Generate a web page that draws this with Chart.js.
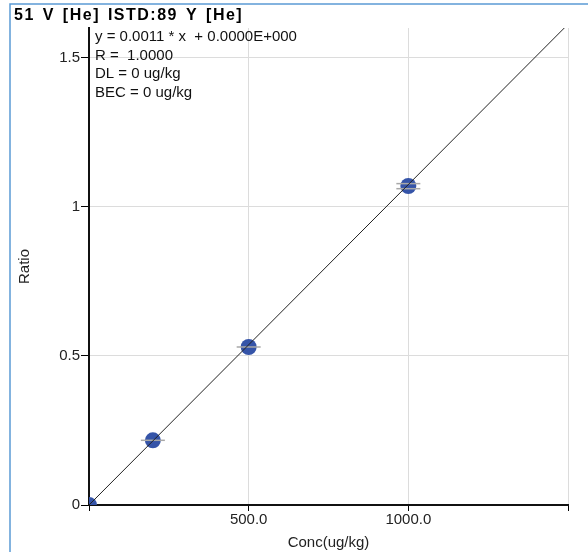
<!DOCTYPE html>
<html>
<head>
<meta charset="utf-8">
<script src="https://cdn.jsdelivr.net/npm/chart.js@4"></script>
<style>
    html, body { margin: 0; padding: 0; background: #fff; }
    #wrap { width: 588px; height: 552px; position: relative; }
</style>
</head>
<body>
<div id="wrap"><canvas id="calibChart" width="588" height="552"></canvas></div>
<script>
// calibration standards
const concentrations = [0, 200, 500, 1000];
const ratios = [0, 0.217, 0.530, 1.070];

// replicate marks drawn across the standards
const replicateConc = [200, 500, 1000, 1000];
const replicateRatio = [0.217, 0.530, 1.061, 1.078];

// fitted line end points
const fitConc = [0, 1500];
const fitRatio = [0, 1.6125];

const xTicks = [0, 500, 1000, 1500];
const yTicks = [0, 0.5, 1, 1.5];

const titleText = '51 V [He] ISTD:89 Y [He]';
const fitInfo = [
    'y = 0.0011 * x  + 0.0000E+000',
    'R =  1.0000',
    'DL = 0 ug/kg',
    'BEC = 0 ug/kg'
];

const FONT = '"Liberation Sans", Arial, sans-serif';

// frame, title and fit statistics
const decorPlugin = {
    id: 'decor',
    afterDraw(chart) {
        const ctx = chart.ctx;
        ctx.save();
        ctx.strokeStyle = '#5b9bd5';
        ctx.lineWidth = 1.5;
        ctx.beginPath();
        ctx.moveTo(10, 552);
        ctx.lineTo(10, 4);
        ctx.lineTo(588, 4);
        ctx.stroke();

        ctx.fillStyle = '#000';
        ctx.textBaseline = 'middle';
        ctx.font = 'bold 16px ' + FONT;
        ctx.letterSpacing = '1.5px';
        ctx.wordSpacing = '2px';
        ctx.fillText(titleText, 14, 16);
        ctx.letterSpacing = '0px';
        ctx.wordSpacing = '0px';

        ctx.font = '15px ' + FONT;
        ctx.fillStyle = '#111';
        fitInfo.forEach((line, i) => {
            ctx.fillText(line, 95, 37 + i * 18.5);
        });
        ctx.restore();
    }
};

const ctx = document.getElementById('calibChart').getContext('2d');

new Chart(ctx, {
    type: 'scatter',
    data: {
        datasets: [{
            type: 'line',
            data: fitConc.map((x, i) => ({ x: x, y: fitRatio[i] })),
            borderColor: '#222',
            borderWidth: 1,
            pointRadius: 0,
            order: 0
        }, {
            data: replicateConc.map((x, i) => ({ x: x, y: replicateRatio[i] })),
            pointStyle: 'line',
            pointRadius: 12,
            borderColor: '#a8a8a8',
            borderWidth: 1.5,
            order: 1
        }, {
            data: concentrations.map((x, i) => ({ x: x, y: ratios[i] })),
            pointStyle: 'circle',
            pointRadius: 8,
            backgroundColor: '#3554a8',
            borderColor: '#3554a8',
            borderWidth: 0,
            clip: 0,
            order: 2
        }]
    },
    options: {
        responsive: false,
        animation: false,
        events: [],
        layout: { padding: { top: 28, right: 20, left: 0, bottom: 0 } },
        scales: {
            x: {
                type: 'linear',
                min: 0,
                max: 1500,
                afterBuildTicks: scale => { scale.ticks = xTicks.map(v => ({ value: v })); },
                afterFit: scale => { scale.height = 47; },
                ticks: {
                    color: '#222',
                    font: { family: FONT, size: 15 },
                    padding: 0,
                    maxRotation: 0,
                    callback: v => (v === 0 || v === 1500) ? '' : v.toFixed(1)
                },
                grid: { color: '#dcdcdc', tickColor: '#000', tickLength: 6 },
                border: { color: '#111', width: 2 },
                title: {
                    display: true,
                    text: 'Conc(ug/kg)',
                    color: '#222',
                    font: { family: FONT, size: 15 },
                    padding: { top: 0, bottom: 0 }
                }
            },
            y: {
                type: 'linear',
                min: 0,
                max: 1.6,
                afterBuildTicks: scale => { scale.ticks = yTicks.map(v => ({ value: v })); },
                afterFit: scale => { scale.width = 89; },
                ticks: {
                    color: '#222',
                    font: { family: FONT, size: 15 },
                    padding: 1,
                    callback: v => String(v)
                },
                grid: { color: '#dcdcdc', tickColor: '#000', tickLength: 8 },
                border: { color: '#111', width: 2 },
                title: {
                    display: true,
                    text: 'Ratio',
                    color: '#222',
                    font: { family: FONT, size: 15 },
                    padding: { top: 16, bottom: 0 }
                }
            }
        },
        plugins: {
            legend: { display: false },
            tooltip: { enabled: false }
        }
    },
    plugins: [decorPlugin]
});
</script>
</body>
</html>
